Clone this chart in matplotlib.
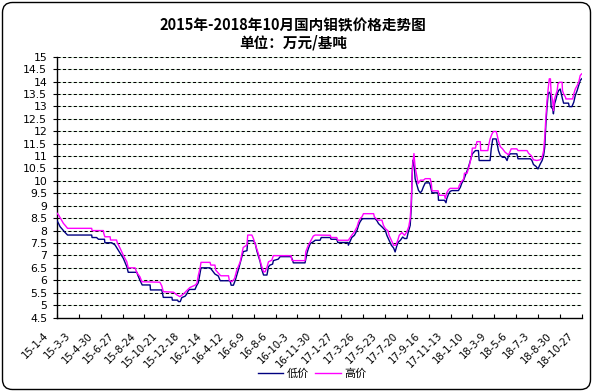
import matplotlib
matplotlib.use("Agg")
import matplotlib.pyplot as plt
from matplotlib.patches import FancyBboxPatch
from matplotlib.transforms import ScaledTranslation, IdentityTransform
from matplotlib.lines import Line2D

plt.rcParams['font.family'] = ['Noto Sans CJK SC', 'DejaVu Sans']

# ---- data (x = days since 2015-01-04) ----
high_days = [0, 4, 11, 17, 21, 28, 92, 93, 123, 124, 127, 141, 142, 158, 160, 167, 176, 185, 189,
             207, 212, 220, 225, 273, 278, 282, 309, 318, 326, 335, 344, 348, 353, 366, 371, 375,
             380, 382, 406, 408, 419, 421, 433, 435, 455, 457, 464, 471, 477, 486, 494, 504, 506,
             517, 521, 528, 534, 542, 548, 552, 557, 561, 570, 574, 621, 623, 625, 658, 660, 667,
             672, 680, 685, 725, 727, 742, 745, 773, 778, 782, 789, 796, 800, 804, 809, 813, 840,
             842, 851, 862, 866, 871, 878, 881, 887, 893, 899, 904, 908, 915, 922, 928, 933, 937,
             940, 943, 947, 950, 955, 958, 964, 972, 977, 990, 993, 995, 1011, 1014, 1028, 1030,
             1034, 1039, 1043, 1065, 1067, 1072, 1079, 1081, 1088, 1090, 1094, 1099, 1102, 1110,
             1114, 1123, 1124, 1143, 1145, 1149, 1154, 1158, 1165, 1167, 1171, 1176, 1182, 1189,
             1198, 1203, 1205, 1220, 1223, 1247, 1251, 1258, 1264, 1273, 1282, 1287, 1291, 1294,
             1297, 1300, 1303, 1306, 1309, 1311, 1315, 1317, 1320, 1324, 1327, 1329, 1333, 1340,
             1341, 1344, 1349, 1350, 1368, 1371, 1375, 1380, 1384, 1388, 1392]
high_vals = [8.70, 8.63, 8.45, 8.29, 8.22, 8.09, 8.09, 8.00, 8.00, 7.89, 7.75, 7.75, 7.62, 7.62, 7.51,
             7.30, 7.00, 6.75, 6.50, 6.50, 6.30, 6.14, 5.94, 5.92, 5.77, 5.54, 5.52, 5.41, 5.34,
             5.44, 5.58, 5.64, 5.71, 5.80, 5.87, 6.20, 6.52, 6.72, 6.72, 6.61, 6.61, 6.41, 6.20,
             6.18, 6.18, 6.00, 5.94, 6.07, 6.41, 6.74, 7.32, 7.42, 7.82, 7.82, 7.68, 7.35, 7.08,
             6.61, 6.34, 6.34, 6.52, 6.74, 6.81, 6.99, 6.99, 6.81, 6.79, 6.79, 7.15, 7.42, 7.55,
             7.78, 7.82, 7.81, 7.72, 7.72, 7.61, 7.61, 7.72, 7.81, 7.95, 8.15, 8.35, 8.48, 8.55,
             8.68, 8.68, 8.55, 8.42, 8.42, 8.21, 8.08, 7.99, 7.81, 7.61, 7.41, 7.41, 7.61, 7.81,
             7.92, 7.81, 7.95, 8.15, 8.48, 9.22, 10.56, 11.10, 10.56, 10.16, 9.89, 10.03, 10.03,
             10.09, 10.09, 9.89, 9.60, 9.60, 9.42, 9.42, 9.29, 9.52, 9.65, 9.70, 9.70, 9.81, 9.95,
             10.08, 10.31, 10.31, 10.42, 10.62, 10.95, 11.32, 11.32, 11.58, 11.58, 11.22, 11.22,
             11.42, 11.69, 11.89, 11.99, 11.99, 11.89, 11.62, 11.38, 11.29, 11.15, 11.05, 11.22,
             11.29, 11.29, 11.22, 11.22, 11.11, 11.02, 10.85, 10.82, 10.85, 10.95, 11.22, 11.76,
             12.56, 13.23, 13.70, 14.11, 14.11, 13.50, 13.23, 12.83, 13.30, 13.50, 13.64, 13.91,
             13.97, 13.97, 13.64, 13.50, 13.37, 13.30, 13.30, 13.50, 13.70, 13.84, 13.97, 14.24,
             14.31]

low_days = [0, 4, 8, 17, 21, 28, 92, 93, 105, 110, 126, 127, 145, 154, 159, 167, 176, 185, 189, 212,
            214, 220, 226, 247, 248, 278, 282, 305, 306, 320, 322, 327, 331, 340, 344, 349, 353,
            366, 371, 375, 380, 382, 406, 411, 419, 428, 433, 459, 462, 468, 473, 481, 488, 494,
            504, 506, 521, 526, 530, 539, 543, 548, 557, 561, 565, 572, 574, 587, 592, 621, 625,
            627, 658, 663, 667, 672, 680, 685, 698, 701, 725, 727, 742, 745, 772, 773, 778, 782,
            789, 796, 800, 804, 809, 813, 844, 849, 853, 862, 871, 875, 881, 887, 893, 897, 902,
            906, 911, 917, 922, 928, 931, 937, 940, 942, 944, 948, 950, 955, 959, 964, 968, 972,
            977, 988, 990, 995, 1011, 1012, 1028, 1032, 1034, 1039, 1043, 1048, 1065, 1070, 1074,
            1079, 1083, 1090, 1094, 1099, 1102, 1110, 1118, 1120, 1149, 1152, 1156, 1165, 1167,
            1171, 1176, 1182, 1189, 1194, 1198, 1203, 1220, 1223, 1256, 1260, 1264, 1271, 1276,
            1282, 1287, 1291, 1294, 1297, 1300, 1303, 1306, 1309, 1311, 1315, 1317, 1320, 1324,
            1327, 1331, 1335, 1338, 1341, 1344, 1357, 1359, 1366, 1371, 1375, 1380, 1384, 1388,
            1392]
low_vals = [8.40, 8.29, 8.16, 8.00, 7.93, 7.82, 7.82, 7.72, 7.72, 7.65, 7.65, 7.51, 7.51, 7.42, 7.30,
            7.10, 6.88, 6.55, 6.32, 6.32, 6.22, 6.00, 5.81, 5.81, 5.61, 5.61, 5.31, 5.31, 5.20,
            5.20, 5.14, 5.14, 5.30, 5.36, 5.44, 5.60, 5.63, 5.63, 5.80, 5.90, 6.34, 6.50, 6.50,
            6.41, 6.25, 6.17, 5.98, 5.98, 5.80, 5.80, 6.00, 6.41, 6.81, 7.15, 7.19, 7.59, 7.59,
            7.48, 7.19, 6.74, 6.44, 6.21, 6.21, 6.54, 6.61, 6.65, 6.79, 6.85, 6.95, 6.95, 6.81,
            6.70, 6.70, 7.08, 7.28, 7.48, 7.55, 7.61, 7.61, 7.72, 7.72, 7.65, 7.65, 7.52, 7.52,
            7.41, 7.58, 7.72, 7.81, 8.01, 8.21, 8.35, 8.46, 8.48, 8.48, 8.39, 8.28, 8.15, 8.01,
            7.81, 7.61, 7.41, 7.30, 7.14, 7.41, 7.54, 7.61, 7.74, 7.68, 7.68, 7.88, 8.21, 8.95,
            10.16, 10.83, 10.56, 10.09, 9.83, 9.62, 9.52, 9.60, 9.76, 9.92, 9.92, 9.83, 9.52,
            9.52, 9.22, 9.22, 9.12, 9.28, 9.48, 9.58, 9.61, 9.61, 9.74, 9.91, 10.04, 10.21, 10.48,
            10.68, 10.95, 11.09, 11.22, 11.22, 10.82, 10.82, 11.29, 11.69, 11.69, 11.56, 11.22,
            11.02, 10.95, 10.95, 10.82, 11.02, 11.09, 11.09, 10.89, 10.89, 10.82, 10.66, 10.58,
            10.48, 10.68, 10.82, 11.02, 11.36, 12.30, 12.97, 13.50, 13.57, 13.50, 12.97, 12.90,
            12.70, 13.10, 13.30, 13.50, 13.64, 13.70, 13.50, 13.30, 13.13, 13.13, 12.99, 12.99,
            13.17, 13.44, 13.64, 13.84, 14.04, 14.11]

tick_days = [i * 58 for i in range(25)]
tick_labels = ['15-1-4', '15-3-3', '15-4-30', '15-6-27', '15-8-24', '15-10-21', '15-12-18',
               '16-2-14', '16-4-12', '16-6-9', '16-8-6', '16-10-3', '16-11-30', '17-1-27',
               '17-3-26', '17-5-23', '17-7-20', '17-9-16', '17-11-13', '18-1-10', '18-3-9',
               '18-5-6', '18-7-3', '18-8-30', '18-10-27']
y_ticks = [4.5 + 0.5 * i for i in range(22)]

title1 = '2015年-2018年10月国内钼铁价格走势图'
title2 = '单位：万元/基吨'
series_names = ['低价', '高价']
colors = ['#000080', '#FF00FF']

# ---- figure ----
W, H = 594, 392
fig = plt.figure(figsize=(W / 100, H / 100), dpi=100)
ax = fig.add_axes([57 / W, 1 - 317.5 / H, (581.7 - 57) / W, (317.5 - 56.7) / H])

for v in y_ticks[1:]:
    ax.axhline(v, color='#d4f0d4', lw=0.75, zorder=1)
    ax.axhline(v, color='black', lw=0.75, linestyle=(0, (3, 2.2)), zorder=1.1)

ax.plot(low_days, low_vals, color=colors[0], lw=1.0, zorder=3)
ax.plot(high_days, high_vals, color=colors[1], lw=1.0, zorder=3)

ax.set_xlim(0, 1392)
ax.set_ylim(4.5, 15)
ax.set_yticks(y_ticks)
ax.set_yticklabels([('%g' % v) for v in y_ticks], fontsize=7.8, family='DejaVu Sans')
ax.tick_params(axis='y', direction='out', length=3, width=0.8, pad=4)
ax.set_xticks(tick_days)
ax.set_xticklabels(tick_labels, rotation=45, ha='right', va='center',
                   rotation_mode='anchor', fontsize=7.2, family='DejaVu Sans')
ax.tick_params(axis='x', direction='in', length=3, width=0.8, pad=12)
for lab in ax.get_xticklabels():
    lab.set_transform(lab.get_transform() + ScaledTranslation(-10 / 100, 0, fig.dpi_scale_trans))

for s in ['top', 'right']:
    ax.spines[s].set_visible(False)
for s in ['left', 'bottom']:
    ax.spines[s].set_linewidth(1.0)
    ax.spines[s].set_color('black')

fig.text(293 / W, 1 - 25 / H, title1, ha='center', va='center', fontsize=10.5,
         fontweight='bold')
fig.text(293 / W, 1 - 42 / H, title2, ha='center', va='center', fontsize=10.5,
         fontweight='bold')

handles = [Line2D([], [], color=c, lw=1.0) for c in colors]
fig.legend(handles, series_names, loc='center', bbox_to_anchor=(312 / W, 1 - 374 / H),
           ncol=2, frameon=False, fontsize=8, handlelength=2.3, handletextpad=0.3,
           columnspacing=0.6)

border = FancyBboxPatch((2.5, 2.5), 588, 387, boxstyle='round,pad=0,rounding_size=10',
                        transform=IdentityTransform(), facecolor='none', edgecolor='black',
                        lw=1.0)
fig.add_artist(border)

fig.savefig('out.png', dpi=100)
